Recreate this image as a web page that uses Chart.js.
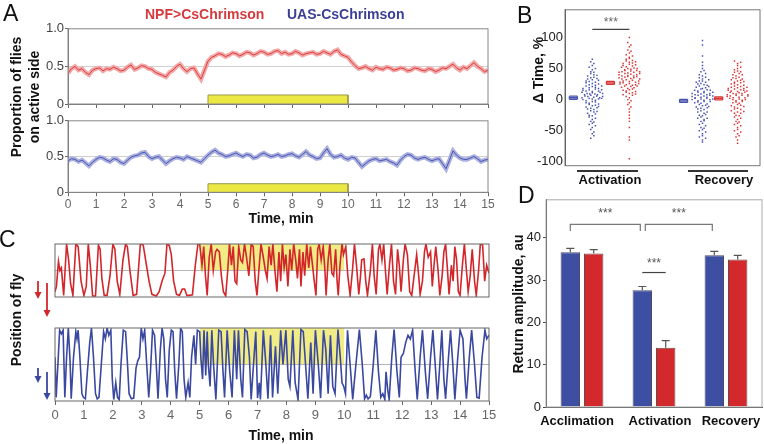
<!DOCTYPE html>
<html>
<head>
<meta charset="utf-8">
<script src="https://cdn.jsdelivr.net/npm/chart.js@4.4.1/dist/chart.umd.min.js"></script>
<style>
  body { margin: 0; width: 764px; height: 444px; background: #fff; position: relative; overflow: hidden;
         font-family: 'Liberation Sans', Arial, sans-serif; color: #111; }
  canvas { position: absolute; }
  .t { position: absolute; white-space: nowrap; line-height: 1; }
  .b { font-weight: bold; font-size: 14px; }
  .c { transform: translate(-50%, -50%); }
  .r { transform: translate(-50%, -50%) rotate(-90deg); text-align: center; }
  .letter { font-size: 23px; }
</style>
</head>
<body>
<canvas id="aTop" width="500" height="95" style="left:0;top:20px"></canvas>
<canvas id="aBot" width="500" height="100" style="left:0;top:112px"></canvas>
<canvas id="cRed" width="500" height="88" style="left:0;top:236px"></canvas>
<canvas id="cBlue" width="500" height="100" style="left:0;top:322px"></canvas>
<canvas id="bChart" width="264" height="190" style="left:500px;top:0"></canvas>
<canvas id="dChart" width="264" height="230" style="left:500px;top:190px"></canvas>

<div class="t letter" style="left:3px;top:2px">A</div>
<div class="t b" style="left:145px;top:7px;color:#d43a3e">NPF&gt;CsChrimson</div>
<div class="t b" style="left:287px;top:7px;color:#3b3f94">UAS-CsChrimson</div>
<div class="t b r" style="left:25px;top:97px;line-height:18px">Proportion of flies<br>on active side</div>
<div class="t b c" style="left:281px;top:218px">Time, min</div>

<div class="t letter" style="left:517px;top:4px">B</div>
<div class="t b r" style="left:538px;top:70px">Δ Time, %</div>
<div class="t" style="left:577px;top:170px;width:61px;border-top:2px solid #333"></div>
<div class="t" style="left:688px;top:170px;width:60px;border-top:2px solid #333"></div>
<div class="t b c" style="left:610px;top:179px;font-size:13px">Activation</div>
<div class="t b c" style="left:724px;top:179px;font-size:13px">Recovery</div>

<div class="t letter" style="left:-1px;top:228px">C</div>
<div class="t b r" style="left:16px;top:320px">Position of fly</div>
<div class="t b c" style="left:281px;top:435px">Time, min</div>

<div class="t letter" style="left:518px;top:184px">D</div>
<div class="t b r" style="left:518px;top:304px">Return amplitude, au</div>
<div class="t b c" style="left:577px;top:420px;font-size:13px">Acclimation</div>
<div class="t b c" style="left:660px;top:420px;font-size:13px">Activation</div>
<div class="t b c" style="left:731px;top:420px;font-size:13px">Recovery</div>

<script>
Chart.defaults.font.family = "'Liberation Sans', Arial, sans-serif";
Chart.defaults.animation = false;

// ---- A: proportion of flies on the active side, sampled every 0.125 min
const sampleStepMin = 0.125;
const aRed = [0.41,0.47,0.50,0.45,0.47,0.42,0.39,0.45,0.47,0.48,
  0.44,0.47,0.46,0.49,0.47,0.44,0.45,0.49,0.52,0.46,
  0.48,0.51,0.50,0.47,0.46,0.42,0.40,0.38,0.36,0.42,
  0.45,0.50,0.53,0.47,0.43,0.47,0.48,0.40,0.33,0.45,
  0.57,0.62,0.64,0.67,0.66,0.63,0.65,0.68,0.67,0.64,
  0.66,0.69,0.68,0.65,0.67,0.70,0.69,0.66,0.67,0.70,
  0.71,0.67,0.69,0.66,0.67,0.70,0.68,0.65,0.67,0.68,
  0.69,0.66,0.67,0.70,0.68,0.66,0.70,0.72,0.66,0.64,
  0.62,0.56,0.51,0.47,0.48,0.50,0.47,0.45,0.49,0.47,
  0.46,0.49,0.48,0.45,0.46,0.48,0.47,0.44,0.45,0.48,
  0.47,0.45,0.44,0.47,0.46,0.43,0.45,0.48,0.47,0.50,
  0.53,0.48,0.45,0.49,0.47,0.51,0.55,0.50,0.47,0.43,
  0.45];
const aBlue = [0.44,0.47,0.46,0.43,0.45,0.41,0.37,0.42,0.46,0.49,
  0.48,0.45,0.43,0.47,0.46,0.42,0.40,0.45,0.49,0.51,
  0.52,0.55,0.56,0.50,0.47,0.49,0.50,0.45,0.40,0.44,
  0.47,0.49,0.48,0.46,0.50,0.48,0.46,0.44,0.42,0.47,
  0.52,0.56,0.59,0.55,0.53,0.50,0.51,0.53,0.55,0.52,
  0.50,0.53,0.52,0.48,0.49,0.53,0.55,0.52,0.50,0.51,
  0.53,0.50,0.51,0.53,0.54,0.51,0.49,0.53,0.57,0.52,
  0.50,0.47,0.48,0.55,0.61,0.53,0.49,0.50,0.52,0.48,
  0.46,0.49,0.48,0.42,0.36,0.40,0.44,0.46,0.47,0.44,
  0.45,0.46,0.43,0.41,0.38,0.45,0.50,0.53,0.52,0.48,
  0.46,0.48,0.49,0.46,0.44,0.46,0.47,0.40,0.33,0.45,
  0.58,0.52,0.48,0.46,0.46,0.48,0.50,0.47,0.43,0.45,
  0.46];
const aYTicks = [0, 0.5, 1];
const stimStart = 5, stimEnd = 10, stimBarHeight = 0.12;

// ---- C: position of a single fly [time min, position 0 = bottom, 1 = top]
const cRed = [[0,0.1],[0.05,0.2],[0.12,0.67],[0.17,0.5],[0.22,0.55],[0.3,0.03],[0.4,1],[0.47,0.7],[0.54,0.25],[0.62,0.03],
  [0.72,1],[0.8,0.95],[0.9,0.3],[1,0.03],[1.08,0.2],[1.15,1],[1.22,0.6],[1.3,0.02],[1.4,0.02],[1.5,0.98],
  [1.56,0.9],[1.62,0.35],[1.7,0.03],[1.8,0.03],[1.9,0.4],[2,1],[2.07,0.9],[2.15,0.3],[2.24,0.05],[2.35,0.7],
  [2.44,1],[2.5,0.95],[2.59,0.5],[2.7,0.03],[2.82,0.05],[2.95,1],[3.05,0.98],[3.16,0.6],[3.25,0.3],[3.35,0.05],
  [3.5,0.02],[3.6,0.1],[3.7,0.3],[3.8,0.45],[3.87,1],[3.95,0.97],[4.02,0.8],[4.1,0.3],[4.2,0.05],[4.3,0.03],
  [4.4,0.15],[4.48,0.15],[4.56,0.03],[4.65,0.03],[4.75,0.04],[4.85,0.6],[4.94,1],
  [5,1],[5.08,0.6],[5.14,0.95],[5.2,0.4],[5.26,0.03],[5.33,0.75],[5.4,1],[5.47,0.5],[5.55,0.85],[5.6,0.9],
  [5.68,0.85],[5.75,0.4],[5.82,0.1],[5.9,0.02],[5.97,0.5],[6.03,1],[6.1,0.6],[6.16,0.95],[6.22,0.3],[6.28,0.25],
  [6.35,0.95],[6.42,0.7],[6.48,0.65],[6.55,1],[6.62,0.75],[6.7,0.4],[6.78,1],[6.85,0.95],[6.92,0.3],[6.98,0.03],
  [7.06,0.6],[7.12,1],[7.2,0.75],[7.27,0.5],[7.33,0.35],[7.4,0.95],[7.47,0.6],[7.53,1],[7.6,0.5],[7.67,0.1],
  [7.74,0.85],[7.8,0.3],[7.86,1],[7.92,0.55],[7.98,0.8],[8.05,0.2],[8.12,0.9],[8.18,0.5],[8.25,1],[8.32,0.7],
  [8.38,0.35],[8.45,0.9],[8.5,0.2],[8.57,0.85],[8.63,0.4],[8.7,1],[8.77,0.55],[8.83,0.95],[8.9,0.6],[8.96,0.3],
  [9.02,0.03],[9.08,0.9],[9.13,1],[9.2,0.7],[9.27,0.95],[9.33,0.5],[9.37,0.03],[9.44,0.7],[9.5,1],[9.57,0.45],
  [9.63,0.4],[9.7,0.9],[9.75,0.3],[9.79,0.03],[9.85,0.6],[9.92,1],[9.97,0.8],
  [10.05,0.95],[10.12,0.4],[10.2,0.03],[10.28,0.5],[10.35,1],[10.42,0.6],[10.5,0.05],[10.56,0.4],[10.6,0.7],[10.68,0.72],
  [10.74,0.3],[10.8,0.03],[10.9,0.5],[10.97,1],[11.03,0.4],[11.1,0.05],[11.18,0.9],[11.23,1],[11.3,0.7],[11.36,1],
  [11.42,0.5],[11.48,0.05],[11.56,0.6],[11.63,1],[11.7,0.3],[11.77,0.05],[11.84,0.9],[11.9,0.6],[11.96,0.1],[12.04,0.7],
  [12.1,1],[12.18,0.8],[12.26,0.1],[12.33,0.03],[12.4,0.35],[12.5,0.8],[12.57,0.4],[12.62,0.05],[12.7,0.3],[12.77,0.85],
  [12.82,1],[12.9,0.75],[12.98,0.85],[13.04,0.2],[13.1,0.6],[13.16,0.95],[13.24,0.5],[13.3,0.03],[13.38,0.4],[13.44,0.85],
  [13.5,1],[13.56,0.55],[13.62,0.05],[13.7,0.6],[13.76,0.3],[13.82,0.95],[13.88,0.7],[13.94,0.1],[14,0.03],[14.08,0.6],
  [14.15,1],[14.22,0.5],[14.28,0.1],[14.35,0.4],[14.42,0.9],[14.5,0.3],[14.56,0.03],[14.64,0.5],[14.7,1],[14.78,0.98],
  [14.85,0.3],[14.92,0.6],[15,0.45]];
const cBlue = [[0,0.6],[0.04,0.05],[0.1,0.5],[0.16,0.97],[0.22,0.92],[0.28,0.97],[0.34,0.05],[0.4,0.6],[0.46,1],[0.52,0.55],
  [0.56,0.03],[0.64,0.6],[0.72,0.95],[0.76,0.85],[0.8,0.97],[0.86,0.6],[0.93,0.1],[0.98,0.05],[1.05,0.03],[1.12,0.4],
  [1.2,0.8],[1.26,1],[1.33,0.6],[1.4,0.1],[1.46,0.03],[1.52,0.05],[1.6,0.5],[1.68,0.95],[1.74,0.85],[1.8,1],
  [1.86,0.9],[1.93,0.97],[1.98,0.3],[2.03,0.02],[2.1,0.25],[2.16,0.05],[2.22,0.02],[2.28,0.5],[2.36,0.97],[2.44,0.95],
  [2.5,0.55],[2.56,0.1],[2.64,0.03],[2.72,0.04],[2.8,0.45],[2.86,0.55],[2.92,0.6],[2.98,1],[3.04,0.85],[3.1,0.97],
  [3.17,0.5],[3.24,0.05],[3.3,0.4],[3.37,0.97],[3.44,0.9],[3.5,0.5],[3.56,0.03],[3.64,0.7],[3.7,1],[3.76,0.85],
  [3.82,0.3],[3.88,0.05],[3.95,0.7],[4.02,0.97],[4.08,0.95],[4.14,0.4],[4.2,0.03],[4.28,0.5],[4.34,1],[4.4,0.95],
  [4.46,0.3],[4.52,0.05],[4.6,0.25],[4.66,0.05],[4.72,0.6],[4.8,0.9],[4.86,0.5],[4.92,0.97],
  [5,0.95],[5.04,0.6],[5.1,0.3],[5.15,0.97],[5.21,0.35],[5.26,0.95],[5.3,0.5],[5.36,0.2],[5.42,0.97],[5.48,0.5],
  [5.56,0.02],[5.66,0.97],[5.74,0.95],[5.8,0.45],[5.86,0.05],[5.95,0.97],[6.04,0.4],[6.12,0.05],[6.2,0.97],[6.28,0.3],
  [6.34,0.97],[6.42,0.3],[6.48,0.05],[6.56,0.98],[6.64,0.95],[6.72,0.6],[6.78,0.02],[6.86,0.5],[6.94,0.95],[7,0.04],
  [7.06,0.25],[7.1,0.02],[7.2,0.97],[7.28,0.55],[7.36,0.03],[7.45,0.9],[7.52,0.05],[7.62,0.75],[7.7,0.1],[7.8,0.97],
  [7.88,0.5],[7.98,0.97],[8.06,0.3],[8.12,0.2],[8.22,0.97],[8.3,0.25],[8.4,0.02],[8.5,0.98],[8.58,0.95],[8.66,0.5],
  [8.74,0.03],[8.84,0.8],[8.92,0.1],[9,0.97],[9.1,0.5],[9.18,0.04],[9.28,0.97],[9.36,0.7],[9.44,0.1],[9.52,0.9],
  [9.6,0.2],[9.68,0.1],[9.78,0.98],[9.86,0.6],[9.92,0.25],[9.98,0.2],
  [10.04,0.1],[10.11,0.97],[10.2,0.5],[10.29,0.02],[10.4,0.5],[10.52,0.98],[10.62,0.5],[10.7,0.03],[10.76,0.08],[10.82,0.03],
  [10.9,0.06],[11,0.5],[11.09,0.97],[11.18,0.4],[11.26,0.05],[11.33,0.1],[11.4,0.02],[11.44,0.4],[11.5,0.15],[11.55,0.02],
  [11.64,0.6],[11.72,0.98],[11.82,0.4],[11.9,0.05],[11.96,0.6],[12.04,0.65],[12.12,0.8],[12.2,0.9],[12.28,0.85],[12.36,0.97],
  [12.45,0.4],[12.52,0.02],[12.62,0.6],[12.7,0.97],[12.8,0.4],[12.88,0.03],[12.98,0.6],[13.06,0.97],[13.14,0.5],[13.22,0.02],
  [13.3,0.5],[13.37,0.97],[13.44,0.3],[13.5,0.03],[13.6,0.6],[13.67,0.97],[13.75,0.5],[13.82,0.02],[13.92,0.6],[14,0.97],
  [14.1,0.85],[14.17,0.3],[14.22,0.03],[14.32,0.6],[14.4,0.97],[14.5,0.5],[14.58,0.05],[14.66,0.04],[14.76,0.6],[14.86,0.97],
  [14.92,0.85],[15,0.9]];

// ---- B: change in time on active side, % (one value per fly)
const bActBlue = [12, -5, 33, 8, -22, 45, 3, -12, 18, 27, -35, 6, 0, 52, -8, 15, -18, 22, 38, -2, 10, -28, 5, 61, -45,
  14, 30, -15, 2, 24, -40, 9, 42, -6, 19, -25, 35, 1, -55, 16, 26, -10, 48, 7, -32, 21, 13, -3, 40, -20, 4, 29, -62,
  11, -14, 36, 17, -48, 23, -1, 55, -30, 6, 32, -9, 20, 65, -38, 3, 25, -16, 9, 44, -26, 14, -4, 28, 58, -52, 18, -11,
  8, 34, -7, 1, -58, 22, 12, -23, 39, 5, -36, 16, -13, 31, 2, -42, 10, 50, -19];
const bActRed = [35, 52, 20, 8, 44, 65, 28, 40, 15, -5, 72, 33, 48, 25, 58, 12, 38, 0, 80, 30, 45, -15, 22, 62, 36, 18,
  50, -25, 42, 27, 85, 10, 55, 32, 5, 47, 68, 24, -35, 39, 14, 60, 29, 92, 43, -8, 53, 21, 37, 75, 3, 46, 31, -60, 57,
  26, 41, 16, 66, -20, 34, 49, 23, 100, 7, 54, 38, -45, 19, 44, 70, 28, 11, 51, -65, 35, 63, 17, 40, -2, 56, 30, 88, 13,
  47, -30, 24, 59, 37, 78, -95, 42, 22, 9, 50, 33, 61, -12, 45, 26];
const bRecBlue = [5, -12, 20, 0, -30, 35, -5, 10, -45, 15, 2, -20, 28, -8, 40, -35, 8, -15, 22, -2, 50, -55, 12, -25, 3,
  30, -40, 18, -10, 7, 60, -60, 25, -4, 14, -18, 38, -28, 1, 9, -50, 45, -6, 17, -32, 70, -14, 4, 26, -22, 88, -65, 11,
  -1, 33, -38, 6, -9, 19, -48, 95, 13, -26, 2, 42, -3, -68, 24, -16, 8, 55, -42, 16, -7, 30, -58, 10, -20, 36, -11, 4,
  21, -34, 0, 47, -52, 15, -24, 7, -62, 28, -13, 1, 32, -46, 12, 23, -30, 6, -3];
const bRecRed = [8, -10, 25, 2, -28, 40, 12, -5, 55, -40, 18, 0, 32, -18, 5, 48, -55, 15, -2, 28, -32, 10, 62, -22, 20,
  6, -45, 35, -12, 3, 58, -65, 22, -8, 14, -35, 44, 9, -20, 30, 1, -50, 17, 38, -15, 60, -70, 11, 26, -25, 7, 42, -4, 19,
  -38, 4, 50, -60, 24, -14, 13, 34, -30, 16, -1, 46, -48, 21, 7, -22, 36, -6, 27, -42, 10, 52, -16, 18, -58, 3, 31, -9,
  23, -26, 12, 40, -36, 6, 15, -11, 29, -52, 8, 45, -3, 20, -19, 14, 0, 33];
const bMean = [3, 27, -2, 2];
const bSem = [2.5, 2.5, 2.5, 2.5];
const bYTicks = [-100, -50, 0, 50, 100];

// ---- D: return amplitude, au
const dCategories = ['Acclimation', 'Activation', 'Recovery'];
const dBlue = [36.6, 27.6, 35.9];
const dBlueErr = [0.9, 0.9, 0.9];
const dRed = [36.3, 14.0, 34.9];
const dRedErr = [0.9, 1.7, 0.95];
const dYTicks = [0, 10, 20, 30, 40];

const RED = '#d3262b', BLUE = '#3a48a0';

const framePlugin = {
  id: 'frame',
  afterDraw(chart, args, opts) {
    const { ctx, chartArea: a } = chart;
    ctx.save();
    ctx.strokeStyle = opts.color || '#777';
    ctx.lineWidth = 1;
    ctx.strokeRect(a.left, a.top, a.width, a.height);
    ctx.restore();
  }
};

function toPts(values) {
  return values.map((v, i) => ({ x: i * sampleStepMin, y: v }));
}

function stimBar() {
  return [{ x: stimStart, y: 0 }, { x: stimStart, y: stimBarHeight }, { x: stimEnd, y: stimBarHeight }, { x: stimEnd, y: 0 }];
}

function traceChart(id, values, line, band, labels, pad, xHeight) {
  const pts = toPts(values);
  return new Chart(document.getElementById(id), {
    type: 'line',
    data: {
      datasets: [
        { data: pts, borderColor: line, borderWidth: 1, pointRadius: 0, order: 0 },
        { data: pts, borderColor: band, borderWidth: 4.5, pointRadius: 0, order: 1 },
        { data: stimBar(), borderColor: '#9c994a', borderWidth: 1, backgroundColor: '#ece843',
          fill: 'origin', pointRadius: 0, order: 2 }
      ]
    },
    plugins: [framePlugin],
    options: {
      responsive: false, devicePixelRatio: 1,
      layout: { padding: pad },
      plugins: { legend: { display: false }, tooltip: { enabled: false }, frame: { color: '#888' } },
      scales: {
        x: {
          type: 'linear', min: 0, max: 15,
          ticks: { stepSize: 1, display: labels, font: { size: 12 }, color: '#666', padding: 1 },
          grid: { drawOnChartArea: false, tickLength: 4, tickColor: '#666' },
          border: { color: '#777' },
          afterFit(s) { s.height = xHeight; }
        },
        y: {
          min: 0, max: 1,
          afterBuildTicks(s) { s.ticks = aYTicks.map(v => ({ value: v })); },
          ticks: { font: { size: 13 }, color: '#444', padding: 1,
                   callback: v => v === 1 ? '1.0' : (v === 0 ? '0' : String(v)) },
          grid: { color: c => c.tick && c.tick.value === 0.5 ? '#cfcfcf' : 'transparent', tickLength: 3, tickColor: '#666' },
          border: { color: '#777' },
          afterFit(s) { s.width = 68; }
        }
      }
    }
  });
}

traceChart('aTop', aRed, '#de3b3b', '#f2a9a9', false, { top: 8, right: 12, bottom: 6, left: 0 }, 5);
traceChart('aBot', aBlue, '#4b55ad', '#aab0e0', true, { top: 5, right: 12, bottom: 0, left: 0 }, 19.7);

// arrows next to the position traces
const arrowPlugin = {
  id: 'arrows',
  afterDraw(chart, args, opts) {
    const { ctx, chartArea: a } = chart;
    ctx.save();
    ctx.strokeStyle = opts.color; ctx.fillStyle = opts.color; ctx.lineWidth = 1.8;
    opts.list.forEach(([dx, y0, y1]) => {
      const x = a.left + dx;
      const top = a.top + y0, bot = a.top + y1;
      ctx.beginPath(); ctx.moveTo(x, top); ctx.lineTo(x, bot - 5); ctx.stroke();
      ctx.beginPath(); ctx.moveTo(x - 3.5, bot - 7); ctx.lineTo(x + 3.5, bot - 7); ctx.lineTo(x, bot); ctx.closePath(); ctx.fill();
    });
    ctx.restore();
  }
};

function positionChart(id, trace, color, showX, pad, arrows) {
  return new Chart(document.getElementById(id), {
    type: 'line',
    data: {
      datasets: [
        { data: trace.map(([t, p]) => ({ x: t, y: p })), borderColor: color, borderWidth: 1.6, pointRadius: 0, order: 0 },
        { data: [{ x: 0, y: 0.5 }, { x: 15, y: 0.5 }], borderColor: '#b5b5b5', borderWidth: 1, pointRadius: 0, order: 1 },
        { data: [{ x: stimStart, y: 1 }, { x: stimEnd, y: 1 }], borderWidth: 0, pointRadius: 0,
          backgroundColor: '#f1ec86', fill: { value: 0.5 }, order: 2 }
      ]
    },
    plugins: [framePlugin, arrowPlugin],
    options: {
      responsive: false, devicePixelRatio: 1,
      layout: { padding: pad },
      plugins: { legend: { display: false }, tooltip: { enabled: false }, frame: { color: '#666' },
                 arrows: { color: color, list: arrows } },
      scales: {
        x: {
          type: 'linear', min: 0, max: 15, display: showX,
          ticks: { stepSize: 1, font: { size: 13 }, color: '#666', padding: 3 },
          grid: { drawOnChartArea: false, tickLength: 4, tickColor: '#666' },
          border: { display: false },
          afterFit(s) { s.height = 21; }
        },
        y: { min: 0, max: 1, display: false }
      }
    }
  });
}

positionChart('cRed', cRed, RED, false, { top: 8, right: 11, bottom: 6, left: 55 },
  [[-17, 37, 55], [-8, 39, 73]]);
positionChart('cBlue', cBlue, BLUE, true, { top: 6, right: 11, bottom: 0, left: 55 },
  [[-17, 40, 55], [-8, 44, 72]]);

// ---- B swarm layout
const bGroupX = [1.4, 3.3, 7.05, 8.85];
const bMeanOffset = 0.97;
const bColors = ['#4652ae', '#d83434', '#4652ae', '#d83434'];

function swarm(values, center, halfW) {
  const bins = {};
  values.forEach((v, i) => { const k = Math.round(v / 5); (bins[k] = bins[k] || []).push(i); });
  const xs = [];
  Object.values(bins).forEach(idx => {
    const n = idx.length;
    const step = n > 1 ? Math.min(0.16, (2 * halfW) / (n - 1)) : 0;
    idx.forEach((i, k) => { xs[i] = center + (k - (n - 1) / 2) * step; });
  });
  return values.map((v, i) => ({ x: xs[i], y: v }));
}

const bExtras = {
  id: 'bExtras',
  afterDatasetsDraw(chart) {
    const { ctx, scales: { x, y } } = chart;
    ctx.save();
    bMean.forEach((m, i) => {
      const cx = x.getPixelForValue(bGroupX[i] - bMeanOffset);
      const yt = y.getPixelForValue(m + bSem[i]), yb = y.getPixelForValue(m - bSem[i]), ym = y.getPixelForValue(m);
      ctx.strokeStyle = bColors[i]; ctx.lineWidth = 1.3;
      ctx.beginPath();
      ctx.moveTo(cx - 4, yt); ctx.lineTo(cx + 4, yt);
      ctx.moveTo(cx - 4, yb); ctx.lineTo(cx + 4, yb);
      ctx.moveTo(cx - 4, ym); ctx.lineTo(cx + 4, ym);
      ctx.moveTo(cx - 4, yt); ctx.lineTo(cx - 4, yb);
      ctx.moveTo(cx + 4, yt); ctx.lineTo(cx + 4, yb);
      ctx.stroke();
    });
    const x1 = x.getPixelForValue(bGroupX[0]), x2 = x.getPixelForValue(bGroupX[1]);
    ctx.strokeStyle = '#444'; ctx.lineWidth = 1.2;
    ctx.beginPath(); ctx.moveTo(x1, y.getPixelForValue(113)); ctx.lineTo(x2, y.getPixelForValue(113)); ctx.stroke();
    ctx.fillStyle = '#666'; ctx.font = "12px 'Liberation Sans', Arial"; ctx.textAlign = 'center'; ctx.textBaseline = 'middle';
    ctx.fillText('***', (x1 + x2) / 2, y.getPixelForValue(124));
    ctx.restore();
  }
};

new Chart(document.getElementById('bChart'), {
  type: 'scatter',
  data: {
    datasets: [bActBlue, bActRed, bRecBlue, bRecRed].map((vals, i) => ({
      data: swarm(vals, bGroupX[i], 0.53),
      backgroundColor: bColors[i], borderWidth: 0, pointRadius: 1.05, pointStyle: 'rect'
    }))
  },
  plugins: [framePlugin, bExtras],
  options: {
    responsive: false, devicePixelRatio: 1,
    layout: { padding: { top: 6.7, right: 3, bottom: 24.3, left: 0 } },
    plugins: { legend: { display: false }, tooltip: { enabled: false }, frame: { color: '#777' } },
    scales: {
      x: { type: 'linear', min: 0, max: 10, display: false },
      y: {
        min: -106.3, max: 144.5,
        afterBuildTicks(s) { s.ticks = bYTicks.map(v => ({ value: v })); },
        ticks: { font: { size: 13 }, color: '#222', padding: 2 },
        grid: { display: false, drawTicks: false },
        border: { color: '#555' },
        afterFit(s) { s.width = 65; }
      }
    }
  }
});

// ---- D bars with error bars and significance brackets
const dExtras = {
  id: 'dExtras',
  afterDatasetsDraw(chart) {
    const { ctx, scales: { y } } = chart;
    ctx.save();
    ctx.strokeStyle = '#555'; ctx.lineWidth = 1.2;
    chart.data.datasets.forEach((ds, di) => {
      chart.getDatasetMeta(di).data.forEach((bar, i) => {
        const yTop = y.getPixelForValue(ds.data[i] + ds.err[i]);
        ctx.beginPath();
        ctx.moveTo(bar.x, bar.y); ctx.lineTo(bar.x, yTop);
        ctx.moveTo(bar.x - 4, yTop); ctx.lineTo(bar.x + 4, yTop);
        ctx.stroke();
      });
    });
    const blue = chart.getDatasetMeta(0).data, red = chart.getDatasetMeta(1).data;
    ctx.strokeStyle = '#777';
    ctx.fillStyle = '#555'; ctx.font = "12px 'Liberation Sans', Arial"; ctx.textAlign = 'center'; ctx.textBaseline = 'middle';
    function bracket(xa, xb) {
      const yl = y.getPixelForValue(43.2), ye = y.getPixelForValue(41.6);
      ctx.beginPath(); ctx.moveTo(xa, ye); ctx.lineTo(xa, yl); ctx.lineTo(xb, yl); ctx.lineTo(xb, ye); ctx.stroke();
      ctx.fillText('***', (xa + xb) / 2, y.getPixelForValue(45.7));
    }
    bracket(blue[0].x, blue[1].x - 2);
    bracket(blue[1].x + 3, blue[2].x - 2);
    ctx.strokeStyle = '#444';
    const yi = y.getPixelForValue(31.8);
    ctx.beginPath(); ctx.moveTo(blue[1].x, yi); ctx.lineTo(red[1].x, yi); ctx.stroke();
    ctx.fillText('***', (blue[1].x + red[1].x) / 2, y.getPixelForValue(33.8));
    ctx.restore();
  }
};

new Chart(document.getElementById('dChart'), {
  type: 'bar',
  data: {
    labels: dCategories,
    datasets: [
      { data: dBlue, err: dBlueErr, backgroundColor: '#3d4fa3', borderColor: '#4a4a6a', borderWidth: 1 },
      { data: dRed, err: dRedErr, backgroundColor: '#d3282c', borderColor: '#6a4a4a', borderWidth: 1 }
    ]
  },
  plugins: [framePlugin, dExtras],
  options: {
    responsive: false, devicePixelRatio: 1,
    categoryPercentage: 0.65, barPercentage: 0.83,
    layout: { padding: { top: 7, right: 2, bottom: 0, left: 0 } },
    plugins: { legend: { display: false }, tooltip: { enabled: false }, frame: { color: '#aaa' } },
    scales: {
      x: {
        grid: { display: false }, ticks: { display: false },
        border: { color: '#444' },
        afterFit(s) { s.height = 13; }
      },
      y: {
        min: 0, max: 49,
        afterBuildTicks(s) { s.ticks = dYTicks.map(v => ({ value: v })); },
        ticks: { font: { size: 13 }, color: '#222', padding: 2 },
        grid: { drawOnChartArea: false, tickLength: 3, tickColor: '#444' },
        border: { color: '#444' },
        afterFit(s) { s.width = 46; }
      }
    }
  }
});
</script>
</body>
</html>
